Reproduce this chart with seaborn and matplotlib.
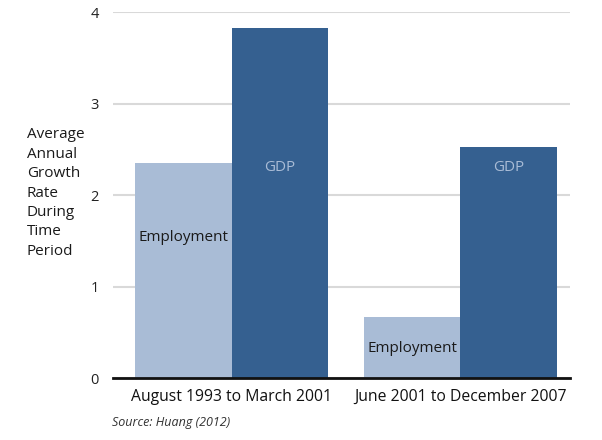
import matplotlib
matplotlib.use("Agg")
import matplotlib.pyplot as plt
import seaborn as sns
import pandas as pd

periods = ["August 1993 to March 2001", "June 2001 to December 2007"]
series = ["Employment", "GDP"]
employment = [2.35, 0.67]
gdp = [3.83, 2.52]
yticks = [0, 1, 2, 3, 4]

df = pd.DataFrame({
    "period": periods * 2,
    "series": [series[0]] * 2 + [series[1]] * 2,
    "value": employment + gdp,
})

sns.set_theme(style="white")
plt.rcParams["font.family"] = ["Open Sans", "DejaVu Sans"]

colors = {"Employment": "#A9BCD6", "GDP": "#356090"}
fig = plt.figure(figsize=(6.02, 4.4), dpi=100)
ax = fig.add_axes([113 / 602, 1 - 378 / 440, (570 - 113) / 602, (378 - 12) / 440])

sns.barplot(data=df, x="period", y="value", hue="series", order=periods,
            hue_order=series, palette=colors, width=0.845, saturation=1,
            linewidth=0, edgecolor="none", ax=ax, legend=False)

ax.set_xlim(-0.52, 1.48)
ax.set_ylim(0, 4)
ax.set_yticks(yticks)
ax.set_yticklabels([str(t) for t in yticks], fontsize=10.5, color="#222222")
ax.tick_params(axis="y", length=0, pad=10)
ax.tick_params(axis="x", length=0, pad=8, labelsize=11.3, labelcolor="#111111")
ax.yaxis.grid(True, color="#D9D9D9", linewidth=1.5)
ax.set_axisbelow(True)
for s in ["top", "right", "left"]:
    ax.spines[s].set_visible(False)
ax.spines["bottom"].set_color("#111111")
ax.spines["bottom"].set_linewidth(2)
ax.set_xlabel("")
ax.set_ylabel("")

# bar labels
emp_bars = ax.containers[0]
gdp_bars = ax.containers[1]
emp_label_y = [1.54, 0.32]
gdp_label_y = [2.3, 2.3]
for b, yy in zip(emp_bars, emp_label_y):
    ax.text(b.get_x() + b.get_width() / 2, yy, "Employment", ha="center",
            va="center", fontsize=11, color="#1a1a1a")
for b, yy in zip(gdp_bars, gdp_label_y):
    ax.text(b.get_x() + b.get_width() / 2, yy, "GDP", ha="center",
            va="center", fontsize=11, color="#A9BCD6")

fig.text(27 / 602, 1 - 193 / 440, "Average\nAnnual\nGrowth\nRate\nDuring\nTime\nPeriod",
         ha="left", va="center", fontsize=11, color="#1a1a1a", linespacing=1.4)
fig.text(112 / 602, 1 - 422 / 440, "Source: Huang (2012)", ha="left", va="center",
         fontsize=9, style="italic", color="#333333")

fig.savefig("out.png", dpi=100)
